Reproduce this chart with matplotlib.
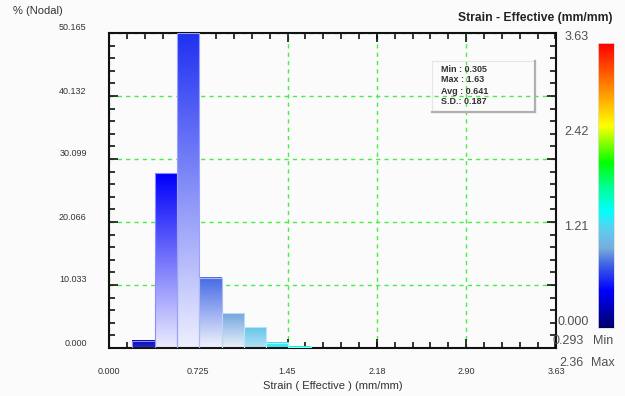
import numpy as np
import matplotlib
matplotlib.use("Agg")
import matplotlib.pyplot as plt
import matplotlib.transforms as mtransforms
from matplotlib.colors import LinearSegmentedColormap, to_rgb

plt.rcParams['font.family'] = ['Liberation Sans', 'DejaVu Sans']

# histogram data (% of nodes per strain bin)
bin_start = 0.19
bin_width = 0.181
percent = [1.18, 27.84, 50.165, 11.15, 5.55, 3.31, 0.85, 0.2]

x_ticks = [0.0, 0.725, 1.45, 2.18, 2.90, 3.63]
x_labels = ['0.000', '0.725', '1.45', '2.18', '2.90', '3.63']
y_ticks = [0.0, 10.033, 20.066, 30.099, 40.132, 50.165]
y_labels = ['0.000', '10.033', '20.066', '30.099', '40.132', '50.165']

cbar_max = 3.63
cbar_ticks = [3.63, 2.42, 1.21, 0.0]
cbar_labels = ['3.63', '2.42', '1.21', '0.000']
range_min = '0.293'
range_max = '2.36'
stats = ['Min : 0.305', 'Max : 1.63', 'Avg : 0.641', 'S.D.: 0.187']

# DEFORM-like rainbow colour scale
cmap = LinearSegmentedColormap.from_list('deform', [
    (0.00, (0.00, 0.00, 0.42)),
    (0.13, (0.00, 0.00, 1.00)),
    (0.22, (0.25, 0.38, 0.90)),
    (0.28, (0.47, 0.68, 0.87)),
    (0.35, (0.35, 0.82, 0.94)),
    (0.41, (0.00, 1.00, 1.00)),
    (0.50, (0.00, 1.00, 0.55)),
    (0.58, (0.00, 1.00, 0.00)),
    (0.71, (1.00, 1.00, 0.00)),
    (0.81, (1.00, 0.65, 0.00)),
    (1.00, (1.00, 0.00, 0.00)),
])

W, H = 625, 396
fig = plt.figure(figsize=(W / 100, H / 100), dpi=100, facecolor='#fbfbfb')


def fx(px):
    return px / W


def fy(py):
    return 1 - py / H


ax = fig.add_axes([fx(109), fy(348), fx(556) - fx(109), fy(33) - fy(348)])
ax.set_facecolor('#fbfbfb')

# gradient bars
for i, h in enumerate(percent):
    x0 = bin_start + i * bin_width
    c = np.array(cmap((x0 + bin_width / 2) / cbar_max)[:3])
    t = 0.92 * min(1.0, h / 6.0)
    bottom = c + (1 - c) * t
    n = 64
    grad = np.linspace(0, 1, n)[:, None, None]
    img = bottom + (c - bottom) * grad
    ax.imshow(img, extent=(x0, x0 + bin_width, 0, h), origin='lower',
              aspect='auto', zorder=2, interpolation='bilinear')
    edge = c + (1 - c) * 0.55
    ax.add_patch(plt.Rectangle((x0, 0), bin_width, h, fill=False,
                               edgecolor=edge, linewidth=0.8, zorder=3))

ax.set_xlim(0, 3.63)
ax.set_ylim(0, 50.165)
ax.set_xticks(x_ticks)
ax.set_xticklabels(x_labels, fontsize=6.5, color='#333333')
ax.set_yticks(y_ticks)
ax.set_yticklabels(y_labels, fontsize=6.5, color='#333333')
ax.xaxis.set_minor_locator(matplotlib.ticker.MultipleLocator(0.145))
ax.yaxis.set_minor_locator(matplotlib.ticker.MultipleLocator(10.033 / 5))
ax.tick_params(which='both', direction='in', top=True, right=True,
               width=1.2, color='#111111')
ax.tick_params(which='major', length=6.5)
ax.tick_params(which='minor', length=4)
ax.tick_params(axis='x', pad=14)
ax.tick_params(axis='y', pad=16)

up = mtransforms.ScaledTranslation(0, 0.06, fig.dpi_scale_trans)
for lbl in ax.get_yticklabels():
    lbl.set_transform(lbl.get_transform() + up)

for s in ax.spines.values():
    s.set_linewidth(1.5)
    s.set_color('#111111')

ax.grid(True, which='major', color='#44ee44', linestyle=(0, (3, 3)),
        linewidth=1.0, zorder=1)
ax.set_axisbelow(True)

ax.set_xlabel('Strain ( Effective ) (mm/mm)', fontsize=8, color='#333333',
              labelpad=3)

fig.text(fx(13), fy(11), '% (Nodal)', fontsize=8, color='#333333',
         ha='left', va='center')
fig.text(fx(613), fy(18), 'Strain - Effective (mm/mm)', fontsize=8.7,
         fontweight='bold', color='#222222', ha='right', va='center')

# stats box (transparent with shadow)
bx0, bx1, by0, by1 = fx(432), fx(535), fy(112), fy(61)
fig.add_artist(plt.Rectangle((bx0, by0), bx1 - bx0, by1 - by0,
                             transform=fig.transFigure, fill=False,
                             edgecolor='#e6e6e6', linewidth=0.8))
fig.add_artist(plt.Line2D([bx1, bx1], [by0, by1], transform=fig.transFigure,
                          color='#b0b0b0', linewidth=1.6))
fig.add_artist(plt.Line2D([bx0, bx1], [by0, by0], transform=fig.transFigure,
                          color='#b0b0b0', linewidth=1.6))
for k, s in enumerate(stats):
    fig.text(fx(441), fy(69 + 11 * k), s, fontsize=6.5, fontweight='bold',
             color='#333333', ha='left', va='center')

# colour bar
cax = fig.add_axes([fx(598), fy(328), fx(614) - fx(598), fy(43) - fy(328)])
cax.imshow(np.linspace(0, 1, 256)[:, None], cmap=cmap, origin='lower',
           aspect='auto', extent=(0, 1, 0, cbar_max))
cax.set_xticks([])
cax.set_yticks([])
for s in cax.spines.values():
    s.set_color('#dddddd')
    s.set_linewidth(0.6)

for v, lab in zip(cbar_ticks, cbar_labels):
    cax.text(-0.6, v, lab, transform=cax.get_yaxis_transform() + up,
             fontsize=9, color='#505050', ha='right', va='center')

fig.text(fx(584), fy(341), range_min, fontsize=9, color='#505050',
         ha='right', va='center')
fig.text(fx(593), fy(341), 'Min', fontsize=9, color='#505050',
         ha='left', va='center')
fig.text(fx(584), fy(363), range_max, fontsize=9, color='#505050',
         ha='right', va='center')
fig.text(fx(591), fy(363), 'Max', fontsize=9, color='#505050',
         ha='left', va='center')

fig.savefig('out.png', dpi=100, facecolor=fig.get_facecolor())
